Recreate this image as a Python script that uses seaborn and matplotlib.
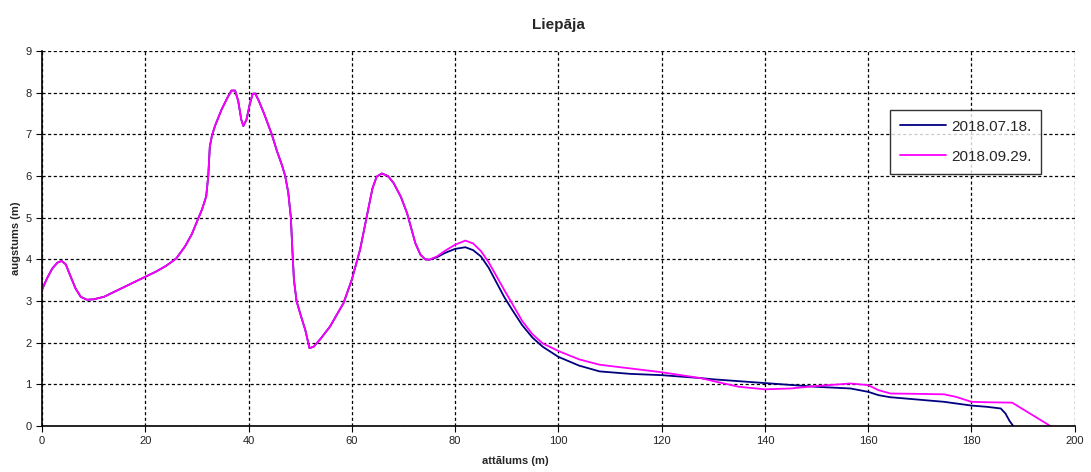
import matplotlib
matplotlib.use("Agg")
import matplotlib.pyplot as plt
import pandas as pd
import seaborn as sns

# shared part of both profiles up to ~75 m (distance m, height m)
dist_common = [0, 1, 2, 3, 3.8, 4.6, 5.5, 6.5, 7.5, 8.7, 10, 12, 14, 16, 18, 20, 22, 24, 26,
               27.7, 29, 30, 31, 31.8, 32.2, 32.5, 32.9, 33.5, 34.8, 36, 36.7, 37.4, 38, 38.6,
               39.0, 39.6, 40.2, 40.8, 41.3, 42, 43, 44.5, 45.5, 46.5, 47.1, 47.7, 48.2, 48.5,
               48.8, 49.3, 50, 51, 51.8, 52.6, 54, 55.8, 57, 58.4, 60, 61.6, 62.9, 64, 64.8,
               65.8, 67, 68.1, 69.5, 70.7, 71.5, 72.3, 73.3, 74.2, 75]
height_common = [3.27, 3.55, 3.78, 3.92, 3.96, 3.88, 3.6, 3.3, 3.1, 3.03, 3.04, 3.1, 3.22, 3.34,
                 3.46, 3.58, 3.7, 3.84, 4.02, 4.31, 4.6, 4.9, 5.2, 5.51, 6.0, 6.7, 6.96, 7.2,
                 7.6, 7.9, 8.05, 8.05, 7.8, 7.35, 7.2, 7.35, 7.7, 7.97, 7.98, 7.8, 7.5, 7.0,
                 6.6, 6.25, 6.0, 5.6, 5.0, 4.2, 3.5, 3.0, 2.7, 2.3, 1.87, 1.9, 2.1, 2.39, 2.65,
                 2.95, 3.51, 4.23, 5.03, 5.7, 5.98, 6.06, 6.0, 5.83, 5.5, 5.11, 4.75, 4.39,
                 4.11, 4.0, 3.99]

# 2018.07.18. beyond 75 m
dist_jul = [76.5, 78, 80, 82, 83.5, 85, 86.5, 88, 89.5, 91, 93, 95, 97, 100, 104, 108, 114,
            120, 127.5, 130, 140, 150, 156.6, 160, 162, 164.3, 170, 174.7, 180, 183, 185.7,
            186.6, 187.4, 188.1]
height_jul = [4.05, 4.15, 4.25, 4.29, 4.22, 4.07, 3.8, 3.45, 3.1, 2.8, 2.42, 2.12, 1.9, 1.66,
              1.45, 1.31, 1.25, 1.22, 1.15, 1.12, 1.03, 0.94, 0.9, 0.82, 0.74, 0.69, 0.63,
              0.58, 0.49, 0.46, 0.42, 0.3, 0.12, 0.0]

# 2018.09.29. beyond 75 m
dist_sep = [76.5, 78, 80, 82, 83.5, 85, 86.5, 88, 89.5, 91, 93, 95, 97, 100, 104, 108, 114,
            120, 127.5, 131, 135, 140, 145, 150, 156.6, 160, 162, 164.3, 170, 174.7, 177, 180,
            183, 187.9, 195.3]
height_sep = [4.07, 4.2, 4.35, 4.45, 4.38, 4.2, 3.93, 3.6, 3.27, 2.95, 2.52, 2.2, 1.98, 1.8,
              1.6, 1.47, 1.38, 1.29, 1.15, 1.05, 0.94, 0.88, 0.9, 0.96, 1.02, 0.98, 0.86, 0.78,
              0.77, 0.76, 0.7, 0.58, 0.57, 0.56, 0.0]

labels = ["2018.07.18.", "2018.09.29."]
colors = ["#000080", "#FF00FF"]

df = pd.concat([
    pd.DataFrame({"x": dist_common + dist_jul, "y": height_common + height_jul, "date": labels[0]}),
    pd.DataFrame({"x": dist_common + dist_sep, "y": height_common + height_sep, "date": labels[1]}),
])

sns.set_style("white")
plt.rcParams["font.family"] = ["Liberation Sans", "DejaVu Sans"]

fig = plt.figure(figsize=(10.91, 4.72), dpi=100)
ax = fig.add_axes([0.0385, 0.0975, 0.9465, 0.7945])
sns.lineplot(data=df, x="x", y="y", hue="date", palette=colors, sort=False,
             estimator=None, linewidth=1.3, ax=ax)

ax.set_xlim(0, 200)
ax.set_ylim(0, 9)
ax.set_xticks(range(0, 201, 20))
ax.set_yticks(range(0, 10))
ax.grid(True, color="black", linestyle=(0, (2.5, 2)), linewidth=0.9)
ax.set_axisbelow(True)
for s in ["top", "right"]:
    ax.spines[s].set_visible(False)
for s in ["left", "bottom"]:
    ax.spines[s].set_color("black")
    ax.spines[s].set_linewidth(1.2)
ax.tick_params(axis="both", direction="out", length=4, color="black", labelsize=8,
               labelcolor="#222222", bottom=True, left=True)

ax.set_title("Liepāja", fontsize=11, fontweight="bold", pad=16)
ax.set_xlabel("attālums (m)", fontsize=8, fontweight="bold")
ax.set_ylabel("augstums (m)", fontsize=8, fontweight="bold")
ax.xaxis.set_label_coords(0.458, -0.08)
ax.yaxis.set_label_coords(-0.02, 0.5)

leg = ax.legend(loc="upper left", bbox_to_anchor=(0.821, 0.843), borderaxespad=0,
                frameon=True, fancybox=False, edgecolor="black", fontsize=11,
                borderpad=0.65, handlelength=3.0, handletextpad=0.35, labelspacing=1.05,
                title=None)
leg.get_frame().set_linewidth(1.0)

fig.savefig("out.png", dpi=100)
plt.close(fig)
